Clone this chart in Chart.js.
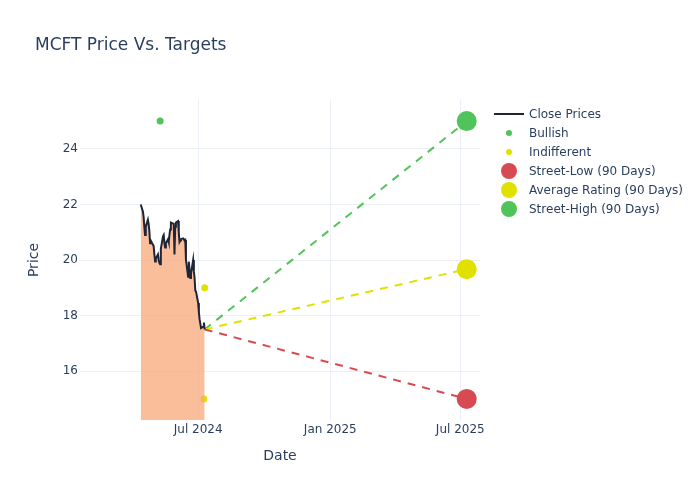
<!DOCTYPE html>
<html>
<head>
<meta charset="utf-8">
<script src="https://cdn.jsdelivr.net/npm/chart.js@4.4.1/dist/chart.umd.min.js"></script>
<style>
  body { margin: 0; background: #fff; }
  #wrap { width: 700px; height: 500px; }
</style>
</head>
<body>
<div id="wrap"><canvas id="chart1" width="700" height="500"></canvas></div>
<script>
// close prices (trading days)
var closeDates = ['2024-04-12','2024-04-15','2024-04-16','2024-04-17','2024-04-18','2024-04-19',
  '2024-04-22','2024-04-23','2024-04-24','2024-04-25','2024-04-26','2024-04-29','2024-04-30',
  '2024-05-01','2024-05-02','2024-05-03','2024-05-06','2024-05-07','2024-05-08','2024-05-09',
  '2024-05-10','2024-05-13','2024-05-14','2024-05-15','2024-05-16','2024-05-17','2024-05-20',
  '2024-05-21','2024-05-22','2024-05-23','2024-05-24','2024-05-28','2024-05-29','2024-05-30',
  '2024-05-31','2024-06-03','2024-06-04','2024-06-05','2024-06-06','2024-06-07','2024-06-10',
  '2024-06-11','2024-06-12','2024-06-13','2024-06-14','2024-06-17','2024-06-18','2024-06-20',
  '2024-06-21','2024-06-24','2024-06-25','2024-06-26','2024-06-27','2024-06-28','2024-07-01',
  '2024-07-02','2024-07-03','2024-07-05','2024-07-08','2024-07-09','2024-07-10'];
var closePrices = [22.0,21.75,21.55,21.2,20.9,21.2,
  21.45,21.3,21.05,20.6,20.7,20.55,20.5,
  20.2,19.95,20.05,20.2,20.0,19.9,19.85,
  20.4,20.85,20.9,20.6,20.45,20.6,20.75,
  20.65,20.9,21.1,21.35,21.3,20.2,21.2,
  21.35,21.4,21.0,20.65,20.7,20.75,20.78,
  20.75,20.7,20.72,20.0,19.4,19.94,19.35,
  19.5,20.0,19.6,19.35,18.9,18.86,18.45,
  18.1,17.86,17.55,17.6,17.75,17.5];

// analyst ratings
var bullishDates = ['2024-05-09'];
var bullishValues = [25];
var indifferentDates = ['2024-07-10','2024-07-09'];
var indifferentValues = [19, 15];

// 90 day targets
var targetDate = '2025-07-10';
var streetLow = 15;
var averageRating = 19.67;
var streetHigh = 25;

// axes
var xTickDates = ['2024-07-01','2025-01-01','2025-07-01'];
var xTickLabels = ['Jul 2024','Jan 2025','Jul 2025'];
var yTicks = [16, 18, 20, 22, 24];

function toMs(s) { return Date.parse(s); }
function pts(dates, vals) { return dates.map(function (d, i) { return {x: toMs(d), y: vals[i]}; }); }

var lastPoint = {x: toMs(closeDates[closeDates.length - 1]), y: closePrices[closePrices.length - 1]};
function targetLine(v) { return [lastPoint, {x: toMs(targetDate), y: v}]; }

var textColor = '#2a3f5f';
var gridColor = '#ebf0f8';
Chart.defaults.font.family = '"DejaVu Sans", sans-serif';
Chart.defaults.color = textColor;

var sideLegend = {
  id: 'sideLegend',
  afterDraw: function (chart) {
    var ctx = chart.ctx;
    ctx.save();
    ctx.font = '12px "DejaVu Sans", sans-serif';
    ctx.textBaseline = 'middle';
    ctx.textAlign = 'left';
    chart.data.datasets.forEach(function (ds, i) {
      var y = 114 + i * 19;
      if (ds.legendLine) {
        ctx.strokeStyle = ds.borderColor;
        ctx.lineWidth = 2;
        ctx.setLineDash([]);
        ctx.beginPath(); ctx.moveTo(494, y); ctx.lineTo(524, y); ctx.stroke();
      } else {
        ctx.fillStyle = ds.legendColor;
        ctx.beginPath(); ctx.arc(509, y, ds.legendRadius, 0, Math.PI * 2); ctx.fill();
      }
      ctx.fillStyle = textColor;
      ctx.fillText(ds.label, 529, y + 1);
    });
    ctx.restore();
  }
};

var red = 'rgb(216,74,82)';
var yellow = 'rgb(225,225,0)';
var green = 'rgb(80,196,90)';

var config = {
  type: 'line',
  data: {
    datasets: [
      {
        label: 'Close Prices',
        data: pts(closeDates, closePrices),
        borderColor: '#1f2538',
        borderWidth: 2,
        backgroundColor: 'rgba(248,168,122,0.75)',
        fill: 'start',
        pointRadius: 0,
        tension: 0,
        legendLine: true
      },
      {
        label: 'Bullish',
        data: pts(bullishDates, bullishValues),
        showLine: false,
        pointRadius: 3.5,
        pointBackgroundColor: green,
        pointBorderWidth: 0,
        legendColor: green, legendRadius: 3
      },
      {
        label: 'Indifferent',
        data: pts(indifferentDates, indifferentValues),
        showLine: false,
        pointRadius: 3.5,
        pointBackgroundColor: yellow,
        pointBorderWidth: 0,
        legendColor: yellow, legendRadius: 3
      },
      {
        label: 'Street-Low (90 Days)',
        data: targetLine(streetLow),
        borderColor: red, borderWidth: 2, borderDash: [8, 7],
        pointRadius: [0, 10], pointBackgroundColor: red, pointBorderWidth: 0,
        fill: false,
        legendColor: red, legendRadius: 8
      },
      {
        label: 'Average Rating (90 Days)',
        data: targetLine(averageRating),
        borderColor: yellow, borderWidth: 2, borderDash: [8, 7],
        pointRadius: [0, 10], pointBackgroundColor: yellow, pointBorderWidth: 0,
        fill: false,
        legendColor: yellow, legendRadius: 8
      },
      {
        label: 'Street-High (90 Days)',
        data: targetLine(streetHigh),
        borderColor: green, borderWidth: 2, borderDash: [8, 7],
        pointRadius: [0, 10], pointBackgroundColor: green, pointBorderWidth: 0,
        fill: false,
        legendColor: green, legendRadius: 8
      }
    ]
  },
  options: {
    responsive: false,
    animation: false,
    layout: { padding: { left: 35, right: 220, top: 0, bottom: 0 } },
    plugins: {
      legend: { display: false },
      tooltip: { enabled: false },
      title: {
        display: true,
        text: 'MCFT Price Vs. Targets',
        align: 'start',
        color: textColor,
        font: { size: 17, weight: 'normal' },
        padding: { top: 35, bottom: 44.6 }
      }
    },
    scales: {
      x: {
        type: 'linear',
        min: Date.UTC(2024, 0, 18, 10),
        max: Date.UTC(2025, 6, 28, 12),
        afterBuildTicks: function (scale) {
          scale.ticks = xTickDates.map(function (d) { return {value: toMs(d)}; });
        },
        afterFit: function (scale) { scale.height = 80; },
        ticks: {
          autoSkip: false, maxRotation: 0, padding: 3,
          font: { size: 12 },
          callback: function (v, i) { return xTickLabels[i]; }
        },
        grid: { color: gridColor, drawTicks: false },
        border: { display: false },
        title: { display: true, text: 'Date', font: { size: 14 }, padding: { top: 0, bottom: 35.6 } }
      },
      y: {
        type: 'linear',
        min: 14.24,
        max: 25.76,
        afterBuildTicks: function (scale) {
          scale.ticks = yTicks.map(function (v) { return {value: v}; });
        },
        afterFit: function (scale) { scale.width = 45; },
        ticks: {
          padding: 2,
          font: { size: 12 },
          callback: function (v) { return String(v); }
        },
        grid: { color: gridColor, drawTicks: false },
        border: { display: false },
        title: { display: true, text: 'Price', font: { size: 14 }, padding: { top: -9.4, bottom: 0 } }
      }
    }
  },
  plugins: [sideLegend]
};

var myChart = new Chart(document.getElementById('chart1'), config);
</script>
</body>
</html>
